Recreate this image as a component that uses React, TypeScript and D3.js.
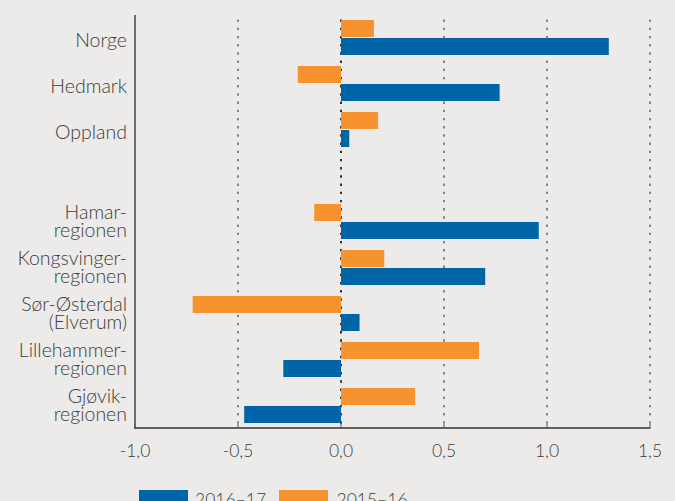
import React from "react";
import * as d3 from "d3";

const categories: string[][] = [
  ["Norge"],
  ["Hedmark"],
  ["Oppland"],
  [],
  ["Hamar-", "regionen"],
  ["Kongsvinger-", "regionen"],
  ["Sør-Østerdal", "(Elverum)"],
  ["Lillehammer-", "regionen"],
  ["Gjøvik-", "regionen"],
];
const values2016: (number | null)[] = [1.3, 0.77, 0.04, null, 0.96, 0.7, 0.09, -0.28, -0.47];
const values2015: (number | null)[] = [0.16, -0.21, 0.18, null, -0.13, 0.21, -0.72, 0.67, 0.36];
const xTicks: number[] = [-1.0, -0.5, 0.0, 0.5, 1.0, 1.5];
const seriesNames = ["2016–17", "2015–16"];

const W = 675;
const H = 501;
const BG = "#ECEBE9";
const BLUE = "#0065A6";
const ORANGE = "#F7932F";
const TEXT = "#3c3c3c";
const FONT = "Lato, 'Open Sans', sans-serif";

export default function App() {
  const x = d3.scaleLinear().domain([-1, 1.5]).range([135, 650]);
  const y = d3
    .scaleBand<number>()
    .domain(categories.map((_, i) => i))
    .range([14.5, 428.5])
    .padding(0);
  const fmt = (v: number) => d3.format(".1f")(v).replace(".", ",").replace("\u2212", "-");
  const barH = 17;
  const labelSize = 19.5;

  return (
    <svg
      width={W}
      height={H}
      style={{ position: "absolute", left: 0, top: 0, background: BG, fontFamily: FONT }}
    >
      <rect x={0} y={0} width={W} height={H} fill={BG} />
      {/* grid lines */}
      {xTicks.slice(1).map((t) => (
        <line
          key={"g" + t}
          x1={x(t)}
          x2={x(t)}
          y1={19.5}
          y2={428}
          stroke={t === 0 ? "#333" : "#7a7a7a"}
          strokeWidth={t === 0 ? 2 : 1.8}
          strokeDasharray="2.4 5.8"
        />
      ))}
      {/* bars */}
      {categories.map((_, i) => {
        const c = (y(i) as number) + y.bandwidth() / 2;
        const a = values2015[i];
        const b = values2016[i];
        return (
          <g key={"b" + i}>
            {a !== null && (
              <rect
                x={Math.min(x(0), x(a))}
                y={c - 17.5}
                width={Math.abs(x(a) - x(0))}
                height={barH}
                fill={ORANGE}
              />
            )}
            {b !== null && (
              <rect
                x={Math.min(x(0), x(b))}
                y={c + 0.5}
                width={Math.abs(x(b) - x(0))}
                height={barH}
                fill={BLUE}
              />
            )}
          </g>
        );
      })}
      {/* axes */}
      <line x1={135} x2={135} y1={15} y2={428.5} stroke="#444" strokeWidth={1.5} />
      <line x1={134.25} x2={650.5} y1={428} y2={428} stroke="#333" strokeWidth={1.6} />
      {xTicks.map((t) => (
        <line key={"t" + t} x1={x(t)} x2={x(t)} y1={424} y2={428} stroke="#555" strokeWidth={1} />
      ))}
      {xTicks.map((t) => (
        <text
          key={"l" + t}
          x={x(t)}
          y={456.5}
          textAnchor="middle"
          fontSize={17.5}
          fontWeight={300}
          fill={TEXT}
        >
          {fmt(t)}
        </text>
      ))}
      {/* category labels */}
      {categories.map((lines, i) => {
        const c = (y(i) as number) + y.bandwidth() / 2;
        if (lines.length === 1) {
          return (
            <text key={"c" + i} x={127} y={c + 9.8} textAnchor="end" fontSize={labelSize} fontWeight={300} fill={TEXT}>
              {lines[0]}
            </text>
          );
        }
        return (
          <text key={"c" + i} x={127} textAnchor="end" fontSize={labelSize} fontWeight={300} fill={TEXT}>
            {lines.map((l, k) => (
              <tspan key={k} x={127} y={c - 3 + k * 18}>
                {l}
              </tspan>
            ))}
          </text>
        );
      })}
      {/* legend */}
      <rect x={139} y={490} width={49} height={20} fill={BLUE} />
      <text x={195} y={505.5} fontSize={17.5} fontWeight={300} fill={TEXT}>
        {seriesNames[0]}
      </text>
      <rect x={279} y={490} width={49} height={20} fill={ORANGE} />
      <text x={336.5} y={505.5} fontSize={17.5} fontWeight={300} fill={TEXT}>
        {seriesNames[1]}
      </text>
    </svg>
  );
}
